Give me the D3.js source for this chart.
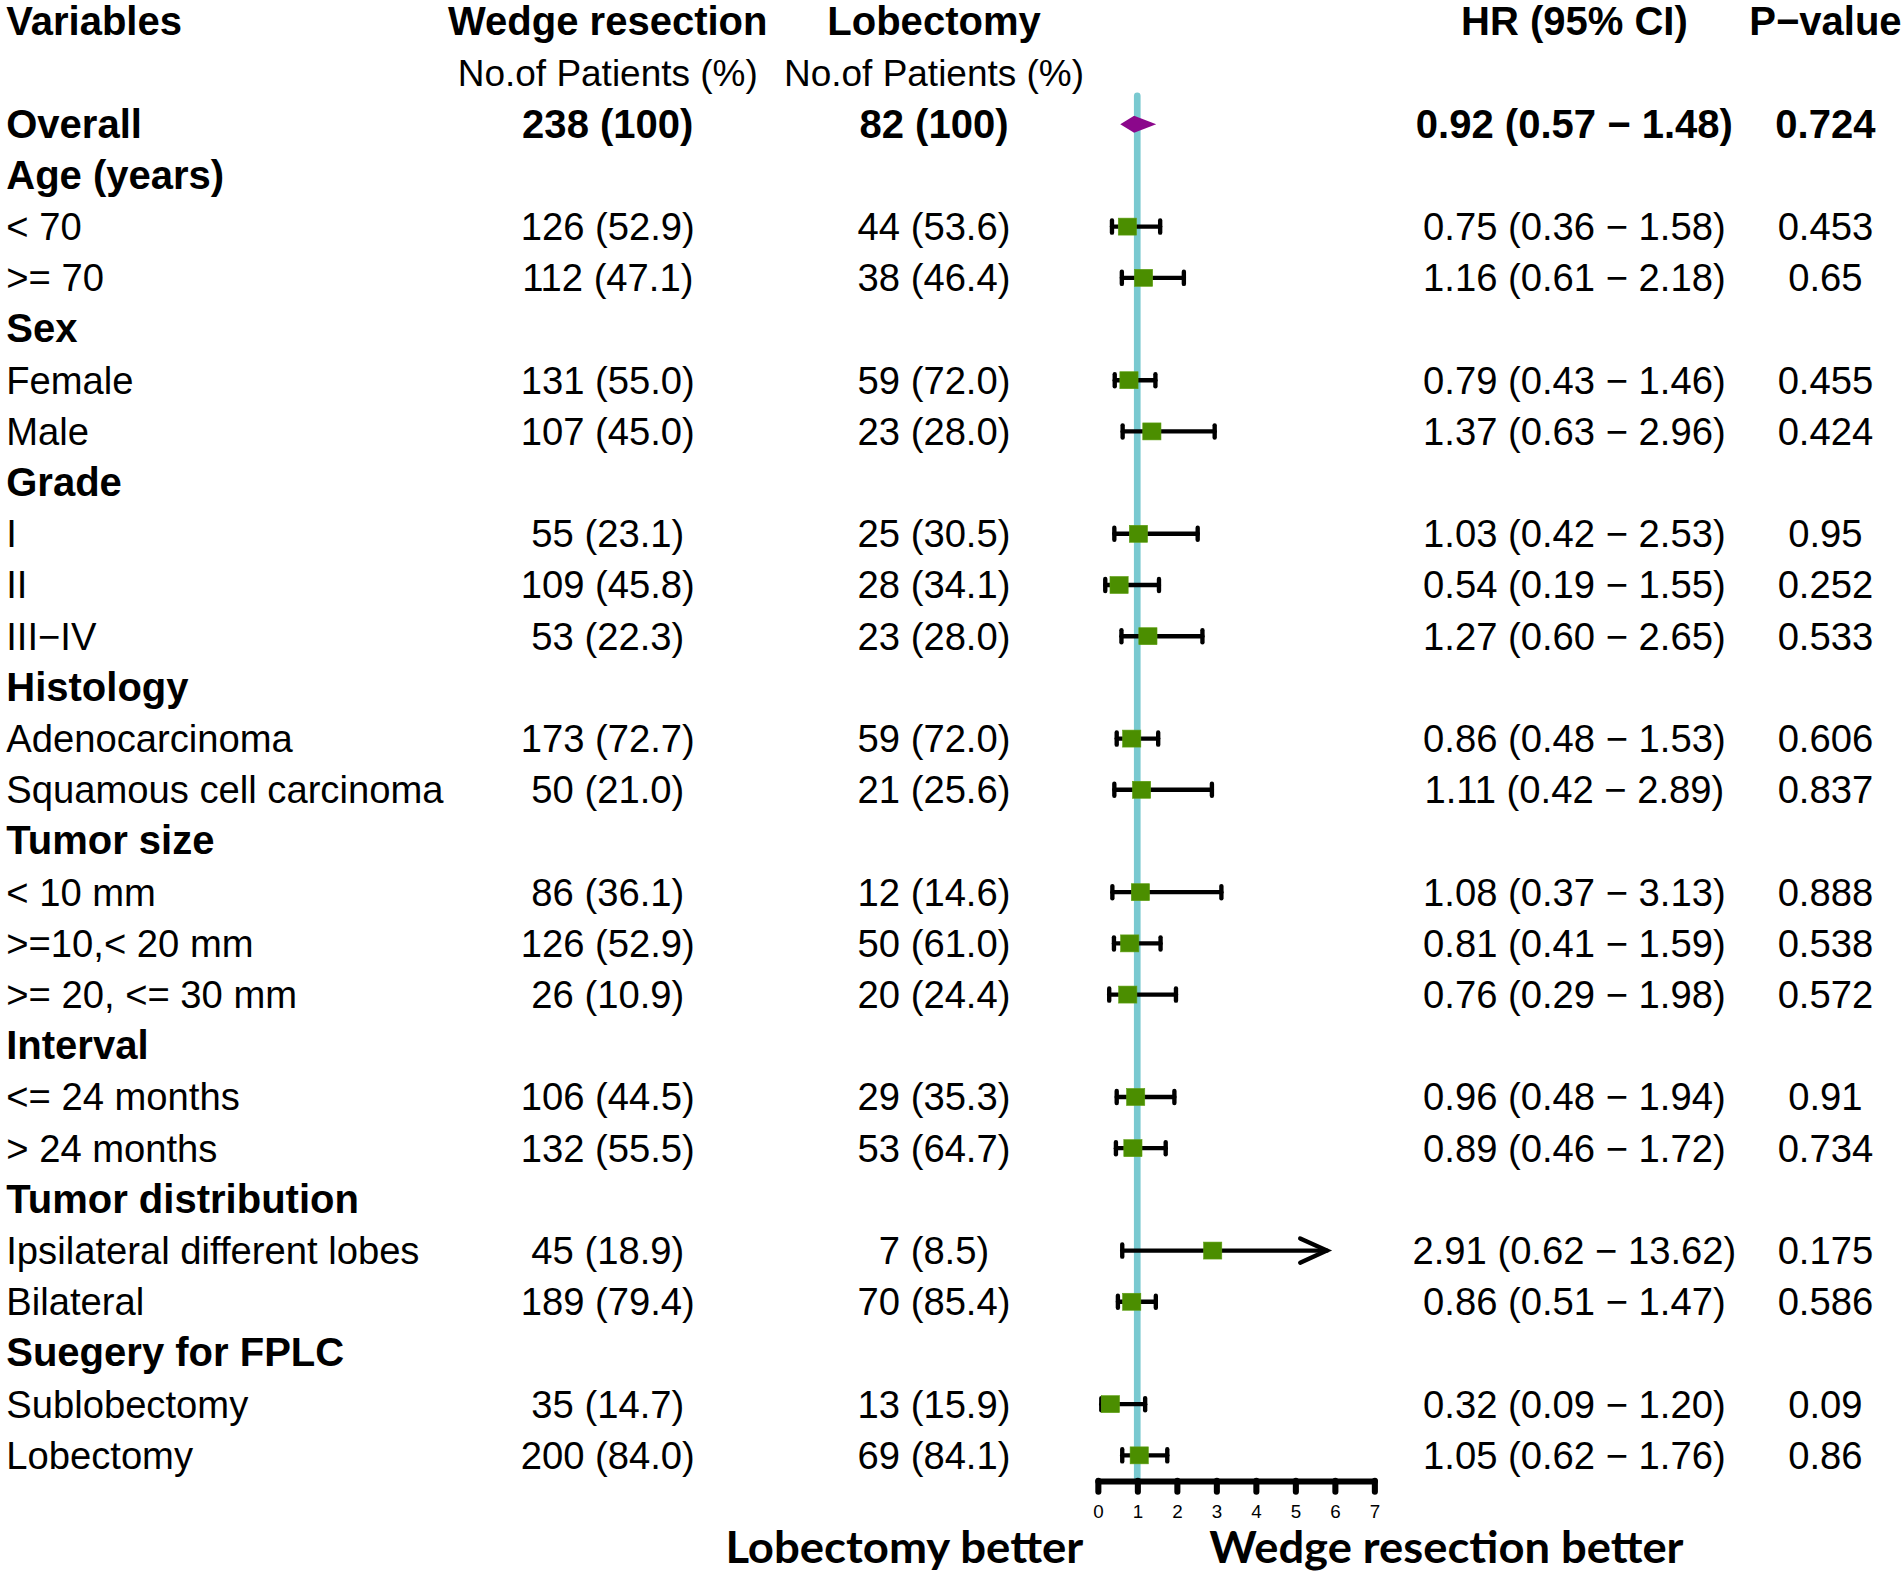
<!DOCTYPE html>
<html>
<head>
<meta charset="utf-8">
<title>Forest plot</title>
<script src="https://d3js.org/d3.v7.min.js"></script>
<style>
  body { margin: 0; background: #fff; }
  svg { display: block; font-family: "Liberation Sans", Arial, sans-serif; }
  .txt { font-size: 31.5px; fill: #000; }
  .bold { font-weight: bold; font-size: 33px; }
  .axis path, .axis line { stroke: #000; stroke-width: 5; stroke-linecap: round; }
  .axis text { font-size: 15.5px; font-family: "Liberation Sans", Arial, sans-serif; }
</style>
</head>
<body>
<div id="chart"></div>
<script>
// ---- data ----
var labels = ["Overall", "Age (years)", "< 70", ">= 70", "Sex", "Female", "Male",
  "Grade", "I", "II", "III\u2212IV", "Histology", "Adenocarcinoma", "Squamous cell carcinoma",
  "Tumor size", "< 10 mm", ">=10,< 20 mm", ">= 20, <= 30 mm", "Interval", "<= 24 months",
  "> 24 months", "Tumor distribution", "Ipsilateral different lobes", "Bilateral",
  "Suegery for FPLC", "Sublobectomy", "Lobectomy"];
var boldRows = [1, 1, 0, 0, 1, 0, 0, 1, 0, 0, 0, 1, 0, 0, 1, 0, 0, 0, 1, 0, 0, 1, 0, 0, 1, 0, 0];
var wedgeN = ["238 (100)", "", "126 (52.9)", "112 (47.1)", "", "131 (55.0)", "107 (45.0)",
  "", "55 (23.1)", "109 (45.8)", "53 (22.3)", "", "173 (72.7)", "50 (21.0)",
  "", "86 (36.1)", "126 (52.9)", "26 (10.9)", "", "106 (44.5)", "132 (55.5)",
  "", "45 (18.9)", "189 (79.4)", "", "35 (14.7)", "200 (84.0)"];
var lobeN = ["82 (100)", "", "44 (53.6)", "38 (46.4)", "", "59 (72.0)", "23 (28.0)",
  "", "25 (30.5)", "28 (34.1)", "23 (28.0)", "", "59 (72.0)", "21 (25.6)",
  "", "12 (14.6)", "50 (61.0)", "20 (24.4)", "", "29 (35.3)", "53 (64.7)",
  "", "7 (8.5)", "70 (85.4)", "", "13 (15.9)", "69 (84.1)"];
var hr = [0.92, null, 0.75, 1.16, null, 0.79, 1.37, null, 1.03, 0.54, 1.27, null, 0.86, 1.11,
  null, 1.08, 0.81, 0.76, null, 0.96, 0.89, null, 2.91, 0.86, null, 0.32, 1.05];
var lower = [0.57, null, 0.36, 0.61, null, 0.43, 0.63, null, 0.42, 0.19, 0.60, null, 0.48, 0.42,
  null, 0.37, 0.41, 0.29, null, 0.48, 0.46, null, 0.62, 0.51, null, 0.09, 0.62];
var upper = [1.48, null, 1.58, 2.18, null, 1.46, 2.96, null, 2.53, 1.55, 2.65, null, 1.53, 2.89,
  null, 3.13, 1.59, 1.98, null, 1.94, 1.72, null, 13.62, 1.47, null, 1.20, 1.76];
var pValues = ["0.724", "", "0.453", "0.65", "", "0.455", "0.424", "", "0.95", "0.252", "0.533",
  "", "0.606", "0.837", "", "0.888", "0.538", "0.572", "", "0.91", "0.734", "", "0.175", "0.586",
  "", "0.09", "0.86"];
var axisTicks = [0, 1, 2, 3, 4, 5, 6, 7];

// ---- layout (drawn in a 1568 x 1297 box, scaled to the page) ----
var W = 1568, H = 1297;
var svg = d3.select("#chart").append("svg")
  .attr("width", 1902).attr("height", 1573)
  .attr("viewBox", "0 0 " + W + " " + H);

// row 0 = header, row 1 = sub header, rows 2.. = data
var y = d3.scaleLinear().domain([0, 28]).range([18, 1200]);
var x = d3.scaleLinear().domain([0, 7]).range([905, 1133]);
var xMax = 5.8; // arrow is drawn where the CI runs off the axis

var colWedge = 501, colLobe = 770, colHR = 1298, colP = 1505;
var base = 11; // baseline offset from row centre

// header
var head = svg.append("g");
head.append("text").attr("class", "txt bold").attr("x", 5).attr("y", y(0) + base).text("Variables");
head.append("text").attr("class", "txt bold").attr("x", colWedge).attr("y", y(0) + base)
  .attr("text-anchor", "middle").text("Wedge resection");
head.append("text").attr("class", "txt bold").attr("x", colLobe).attr("y", y(0) + base)
  .attr("text-anchor", "middle").text("Lobectomy");
head.append("text").attr("class", "txt bold").attr("x", colHR).attr("y", y(0) + base)
  .attr("text-anchor", "middle").text("HR (95% CI)");
head.append("text").attr("class", "txt bold").attr("x", colP).attr("y", y(0) + base)
  .attr("text-anchor", "middle").text("P\u2212value");
head.append("text").attr("class", "txt").attr("x", colWedge).attr("y", y(1) + base)
  .attr("text-anchor", "middle").style("font-size", "30.5px").text("No.of Patients (%)");
head.append("text").attr("class", "txt").attr("x", colLobe).attr("y", y(1) + base)
  .attr("text-anchor", "middle").style("font-size", "30.5px").text("No.of Patients (%)");

var rows = labels.map(function(l, i) {
  return { label: l, bold: boldRows[i], w: wedgeN[i], l2: lobeN[i], hr: hr[i],
           lo: lower[i], hi: upper[i], p: pValues[i], row: i + 2 };
});

var f2 = d3.format(".2f");
var rowG = svg.append("g").selectAll("g").data(rows).enter().append("g")
  .attr("transform", function(d) { return "translate(0," + y(d.row) + ")"; });

rowG.append("text").attr("class", function(d) { return d.bold ? "txt bold" : "txt"; })
  .attr("x", 5).attr("y", base).text(function(d) { return d.label; });
rowG.append("text").attr("class", function(d) { return d.row === 2 ? "txt bold" : "txt"; })
  .attr("x", colWedge).attr("y", base).attr("text-anchor", "middle").text(function(d) { return d.w; });
rowG.append("text").attr("class", function(d) { return d.row === 2 ? "txt bold" : "txt"; })
  .attr("x", colLobe).attr("y", base).attr("text-anchor", "middle").text(function(d) { return d.l2; });
rowG.append("text").attr("class", function(d) { return d.row === 2 ? "txt bold" : "txt"; })
  .attr("x", colHR).attr("y", base).attr("text-anchor", "middle")
  .text(function(d) { return d.hr == null ? "" : f2(d.hr) + " (" + f2(d.lo) + " \u2212 " + f2(d.hi) + ")"; });
rowG.append("text").attr("class", function(d) { return d.row === 2 ? "txt bold" : "txt"; })
  .attr("x", colP).attr("y", base).attr("text-anchor", "middle").text(function(d) { return d.p; });

// reference line at HR = 1
svg.append("line")
  .attr("x1", x(1)).attr("x2", x(1)).attr("y1", 79).attr("y2", 1221)
  .attr("stroke", "#79C9D0").attr("stroke-width", 5.5).attr("stroke-linecap", "round");

// CI whiskers for subgroup rows
var sub = rows.filter(function(d) { return d.hr != null && d.row !== 2; });
var ci = svg.append("g").attr("stroke", "#000").attr("stroke-width", 3.6).attr("stroke-linecap", "round");
ci.selectAll(".ci").data(sub).enter().append("line")
  .attr("x1", function(d) { return x(d.lo); })
  .attr("x2", function(d) { return x(Math.min(d.hi, xMax)); })
  .attr("y1", function(d) { return y(d.row); }).attr("y2", function(d) { return y(d.row); });
ci.selectAll(".capL").data(sub).enter().append("line")
  .attr("x1", function(d) { return x(d.lo); }).attr("x2", function(d) { return x(d.lo); })
  .attr("y1", function(d) { return y(d.row) - 5; }).attr("y2", function(d) { return y(d.row) + 5; });
ci.selectAll(".capR").data(sub.filter(function(d) { return d.hi <= xMax; })).enter().append("line")
  .attr("x1", function(d) { return x(d.hi); }).attr("x2", function(d) { return x(d.hi); })
  .attr("y1", function(d) { return y(d.row) - 5; }).attr("y2", function(d) { return y(d.row) + 5; });
ci.selectAll(".arrow").data(sub.filter(function(d) { return d.hi > xMax; })).enter().append("path")
  .attr("fill", "none")
  .attr("d", function(d) {
    var ax = x(xMax), ay = y(d.row);
    return "M" + (ax - 22) + "," + (ay - 10) + "L" + ax + "," + ay + "L" + (ax - 22) + "," + (ay + 10);
  });

// point estimates
svg.append("g").selectAll("rect").data(sub).enter().append("rect")
  .attr("x", function(d) { return x(d.hr) - 7.5; })
  .attr("y", function(d) { return y(d.row) - 7; })
  .attr("width", 15).attr("height", 14)
  .attr("fill", "#4B8E00").attr("stroke", "#5C9F10").attr("stroke-width", 0.5);

// overall diamond
var ov = rows[0];
svg.append("path")
  .attr("fill", "#8B078B")
  .attr("d", "M" + x(ov.lo) + "," + y(ov.row) + "L" + x(ov.hr) + "," + (y(ov.row) - 7) +
             "L" + x(ov.hi) + "," + y(ov.row) + "L" + x(ov.hr) + "," + (y(ov.row) + 7) + "Z");

// x axis
var axis = svg.append("g").attr("class", "axis")
  .attr("transform", "translate(0,1221)")
  .call(d3.axisBottom(x).tickValues(axisTicks).tickSize(9).tickSizeOuter(0).tickPadding(11)
    .tickFormat(d3.format("d")));

// bottom captions
svg.append("text").attr("x", 598).attr("y", 1289)
  .attr("textLength", 295).attr("lengthAdjust", "spacingAndGlyphs")
  .style("font-family", "Lato, 'Open Sans', sans-serif").style("font-weight", "bold")
  .style("font-size", "36px").text("Lobectomy better");
svg.append("text").attr("x", 997).attr("y", 1289)
  .attr("textLength", 391).attr("lengthAdjust", "spacingAndGlyphs")
  .style("font-family", "Lato, 'Open Sans', sans-serif").style("font-weight", "bold")
  .style("font-size", "36px").text("Wedge resection better");
</script>
</body>
</html>
